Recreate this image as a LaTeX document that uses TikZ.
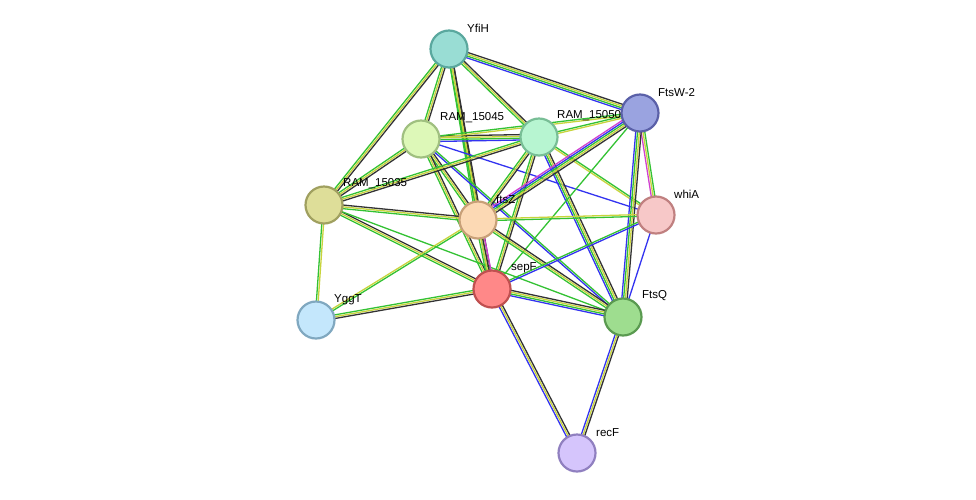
\documentclass[tikz,border=0pt]{standalone}
\usepackage{fontspec}
\setmainfont{Liberation Sans}
\usetikzlibrary{calc,backgrounds}
\definecolor{cy}{HTML}{C8D43C}
\definecolor{cg}{HTML}{33C233}
\definecolor{ck}{HTML}{333333}
\definecolor{cb}{HTML}{3333F0}
\definecolor{cm}{HTML}{D040D0}
\newcommand\ed[4]{%
  \foreach \c [count=\i] in {#4} {%
    \pgfmathsetmacro\o{(\i-(#3+1)/2)*1.8}
    \draw[line width=1.3pt,draw=\c] ($(#1)!\o pt!90:(#2)$) -- ($(#2)!\o pt!-90:(#1)$);
  }}
\begin{document}
\begin{tikzpicture}[x=1pt,y=-1pt,
  pn/.style={circle,minimum size=37pt,inner sep=0pt,line width=2.2pt},
  lb/.style={font=\fontsize{11.5}{13}\selectfont,anchor=south west,inner sep=1pt}]
\useasboundingbox (0,0) rectangle (976,499);
\node[pn,fill={rgb,255:red,153;green,221;blue,212},draw={rgb,255:red,90;green,168;blue,158}] (yfih) at (449,49) {};
\node[pn,fill={rgb,255:red,221;green,248;blue,184},draw={rgb,255:red,160;green,192;blue,128}] (r45) at (421,139) {};
\node[pn,fill={rgb,255:red,183;green,245;blue,209},draw={rgb,255:red,120;green,190;blue,150}] (r50) at (539,137) {};
\node[pn,fill={rgb,255:red,154;green,163;blue,224},draw={rgb,255:red,90;green,96;blue,168}] (ftsw) at (640,113) {};
\node[pn,fill={rgb,255:red,222;green,222;blue,153},draw={rgb,255:red,160;green,160;blue,96}] (r35) at (324,205) {};
\node[pn,fill={rgb,255:red,252;green,217;blue,180},draw={rgb,255:red,200;green,160;blue,120}] (ftsz) at (478,220) {};
\node[pn,fill={rgb,255:red,247;green,200;blue,200},draw={rgb,255:red,192;green,128;blue,128}] (whia) at (656,215) {};
\node[pn,fill={rgb,255:red,255;green,136;blue,136},draw={rgb,255:red,192;green,80;blue,80}] (sepf) at (492,289) {};
\node[pn,fill={rgb,255:red,196;green,231;blue,252},draw={rgb,255:red,128;green,168;blue,192}] (yggt) at (316,320) {};
\node[pn,fill={rgb,255:red,158;green,221;blue,143},draw={rgb,255:red,90;green,154;blue,80}] (ftsq) at (623,317) {};
\node[pn,fill={rgb,255:red,213;green,197;blue,252},draw={rgb,255:red,144;green,128;blue,192}] (recf) at (577,453) {};
\node[lb] (lyfih) at (466,34) {YfiH};
\node[lb] (l45) at (439,124) {RAM\_15045};
\node[lb] (l50) at (556,122) {RAM\_15050};
\node[lb] (lw) at (657,98) {FtsW-2};
\node[lb] (l35) at (342,190) {RAM\_15035};
\node[lb] (lz) at (495,205) {ftsZ};
\node[lb] (la) at (673,200) {whiA};
\node[lb] (ls) at (510,274) {sepF};
\node[lb] (lt) at (333,306) {YggT};
\node[lb] (lq) at (641,302) {FtsQ};
\node[lb] (lr) at (595,438) {recF};
\begin{pgfonlayer}{background}
\fill[white] (0,0) rectangle (976,499);
\ed{yfih}{r45}{3}{cg,cy,ck}
\ed{yfih}{r50}{3}{cg,cy,ck}
\ed{yfih}{ftsw}{4}{cb,cg,cy,ck}
\ed{yfih}{r35}{3}{cg,cy,ck}
\ed{yfih}{ftsz}{3}{cg,cy,ck}
\ed{yfih}{sepf}{3}{cg,cy,ck}
\ed{r45}{r50}{4}{cb,cg,cy,ck}
\ed{r45}{r35}{3}{cg,cy,ck}
\ed{r45}{ftsz}{3}{cg,cy,ck}
\ed{r45}{sepf}{3}{cg,cy,ck}
\ed{r45}{whia}{1}{cb}
\ed{r45}{ftsq}{2}{cb,cg}
\ed{r45}{ftsw}{2}{cy,cg}
\ed{r50}{ftsw}{2}{cy,cg}
\ed{r50}{r35}{3}{cg,cy,ck}
\ed{r50}{ftsz}{3}{cg,cy,ck}
\ed{r50}{sepf}{3}{cg,cy,ck}
\ed{r50}{ftsq}{4}{cb,cg,cy,ck}
\ed{r50}{whia}{2}{cy,cg}
\ed{ftsw}{ftsz}{5}{cm,cb,cg,cy,ck}
\ed{ftsw}{sepf}{1}{cg}
\ed{ftsw}{whia}{3}{cm,cy,cg}
\ed{ftsw}{ftsq}{4}{cb,cg,cy,ck}
\ed{r35}{ftsz}{3}{cg,cy,ck}
\ed{r35}{sepf}{3}{cg,cy,ck}
\ed{r35}{yggt}{2}{cg,cy}
\ed{r35}{ftsq}{1}{cg}
\ed{ftsz}{sepf}{4}{cg,cy,ck,cm}
\ed{ftsz}{whia}{2}{cg,cy}
\ed{ftsz}{ftsq}{3}{cg,cy,ck}
\ed{ftsz}{yggt}{2}{cy,cg}
\ed{sepf}{yggt}{3}{cg,cy,ck}
\ed{sepf}{ftsq}{4}{cb,cg,cy,ck}
\ed{sepf}{whia}{2}{cb,cg}
\ed{sepf}{recf}{3}{cb,cy,ck}
\ed{ftsq}{recf}{3}{cb,cy,ck}
\ed{whia}{ftsq}{1}{cb}
\end{pgfonlayer}
\end{tikzpicture}
\end{document}
